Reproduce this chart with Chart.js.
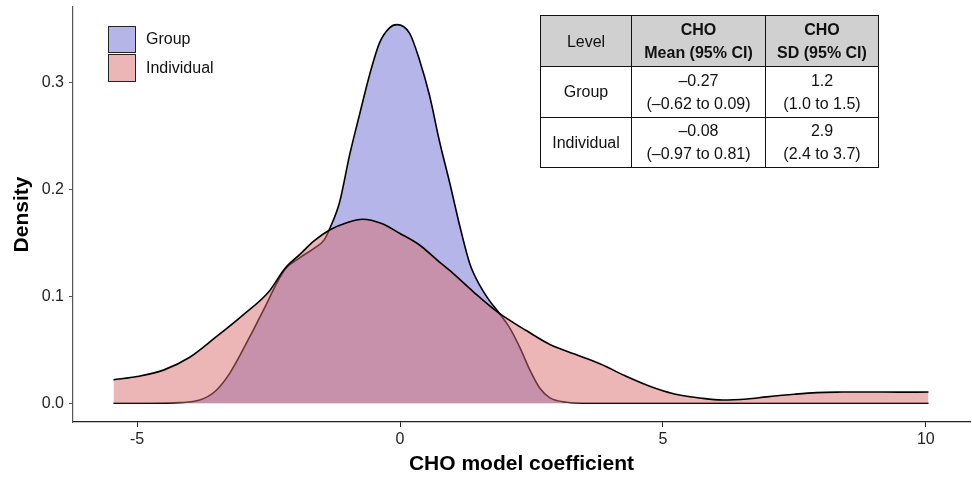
<!DOCTYPE html>
<html>
<head>
<meta charset="utf-8">
<script src="https://cdn.jsdelivr.net/npm/chart.js@4"></script>
<style>
  body { margin: 0; background: #fff; font-family: "Liberation Sans", Arial, sans-serif; }
  #wrap { position: relative; width: 972px; height: 477px; }
  #legend { position: absolute; left: 108px; top: 25px; }
  .item { display: flex; align-items: center; height: 28.5px; font-size: 16px; color: #111; }
  .swatch { width: 26px; height: 25.5px; border: 1.5px solid #222; margin-right: 10px; box-sizing: content-box; }
  #stats { position: absolute; left: 540px; top: 15px; border-collapse: collapse; font-size: 16px; color: #111; }
  #stats th, #stats td { border: 1.5px solid #111; text-align: center; padding: 0; line-height: 23px; }
  #stats th { background: #d0d0d0; height: 50px; }
  #stats th.lvl { font-weight: normal; width: 90px; }
  #stats td { height: 49.5px; }
  #stats .c2 { width: 133px; }
  #stats .c3 { width: 112px; }
</style>
</head>
<body>
<div id="wrap">
  <canvas id="density-chart" width="972" height="477"></canvas>
  <div id="legend"></div>
  <table id="stats">
    <tr><th class="lvl">Level</th><th class="c2">CHO<br>Mean (95% CI)</th><th class="c3">CHO<br>SD (95% CI)</th></tr>
    <tr><td>Group</td><td>–0.27<br>(–0.62 to 0.09)</td><td>1.2<br>(1.0 to 1.5)</td></tr>
    <tr><td>Individual</td><td>–0.08<br>(–0.97 to 0.81)</td><td>2.9<br>(2.4 to 3.7)</td></tr>
  </table>
</div>
<script>
const seriesNames = ['Group', 'Individual'];

const groupX = [-5.45, -4.76, -4.19, -3.81, -3.52, -3.24, -2.86, -2.63, -2.19, -1.91, -1.63, -1.44, -1.34, -1.15, -0.96, -0.77, -0.58, -0.39, -0.20, -0.06, 0.18, 0.37, 0.56, 0.75, 0.95, 1.14, 1.33, 1.52, 1.70, 1.89, 2.08, 2.28, 2.47, 2.66, 2.85, 3.17, 3.60, 5.0, 7.5, 10.05];
const groupY = [0, 0, 0.0006, 0.003, 0.011, 0.028, 0.062, 0.084, 0.125, 0.136, 0.145, 0.153, 0.163, 0.188, 0.232, 0.270, 0.307, 0.337, 0.351, 0.354, 0.346, 0.321, 0.288, 0.245, 0.205, 0.165, 0.130, 0.110, 0.096, 0.084, 0.071, 0.052, 0.031, 0.014, 0.005, 0.001, 0, 0, 0, 0];

const indivX = [-5.45, -5.0, -4.5, -4.0, -3.5, -3.0, -2.5, -2.19, -1.91, -1.63, -1.34, -1.0, -0.71, -0.35, -0.01, 0.37, 0.75, 0.95, 1.40, 1.89, 2.40, 2.85, 3.32, 3.80, 4.27, 4.75, 5.20, 5.70, 6.13, 6.60, 6.97, 7.50, 7.92, 8.40, 8.87, 9.50, 10.05];
const indivY = [0.022, 0.025, 0.031, 0.043, 0.062, 0.082, 0.104, 0.126, 0.139, 0.152, 0.162, 0.169, 0.172, 0.168, 0.159, 0.148, 0.132, 0.124, 0.104, 0.084, 0.068, 0.055, 0.046, 0.037, 0.026, 0.016, 0.009, 0.005, 0.003, 0.004, 0.006, 0.0085, 0.010, 0.0105, 0.0106, 0.0104, 0.0105];

const xTicks = [-5, 0, 5, 10];
const yTicks = [0, 0.1, 0.2, 0.3];

const fills = ['rgba(107,107,213,0.5)', 'rgba(217,109,109,0.5)'];

const toPoints = (xs, ys) => xs.map((x, i) => ({ x: x, y: ys[i] }));

// legend as html
const legend = document.getElementById('legend');
seriesNames.forEach((name, i) => {
    const item = document.createElement('div');
    item.className = 'item';
    const sw = document.createElement('span');
    sw.className = 'swatch';
    sw.style.background = fills[i];
    item.appendChild(sw);
    item.appendChild(document.createTextNode(name));
    legend.appendChild(item);
});

const tickFont = { family: '"Liberation Sans", Arial, sans-serif', size: 16 };
const titleFont = { family: '"Liberation Sans", Arial, sans-serif', size: 21, weight: 'bold' };

new Chart(document.getElementById('density-chart').getContext('2d'), {
    type: 'line',
    data: {
        datasets: [
            {
                label: seriesNames[0],
                data: toPoints(groupX, groupY),
                backgroundColor: fills[0],
                borderColor: '#000',
                borderWidth: 1.6,
                fill: 'origin',
                pointRadius: 0,
                cubicInterpolationMode: 'monotone',
                order: 2
            },
            {
                label: seriesNames[1],
                data: toPoints(indivX, indivY),
                backgroundColor: fills[1],
                borderColor: '#000',
                borderWidth: 1.6,
                fill: 'origin',
                pointRadius: 0,
                cubicInterpolationMode: 'monotone',
                order: 1
            }
        ]
    },
    options: {
        responsive: false,
        animation: false,
        layout: { padding: { top: 7, right: 2 } },
        plugins: {
            legend: { display: false },
            tooltip: { enabled: false }
        },
        scales: {
            x: {
                type: 'linear',
                min: -6.22,
                max: 10.84,
                afterFit: s => { s.height = 55; s.paddingLeft = 0; s.paddingRight = 0; },
                afterBuildTicks: s => { s.ticks = xTicks.map(v => ({ value: v })); },
                ticks: { font: tickFont, color: '#222', padding: 3, maxRotation: 0, callback: v => String(v) },
                grid: { drawOnChartArea: false, drawTicks: true, tickLength: 5, color: '#222' },
                border: { display: true, color: '#222', width: 1.2 },
                title: { display: true, text: 'CHO model coefficient', font: titleFont, color: '#000', padding: { top: 4, bottom: 0 } }
            },
            y: {
                type: 'linear',
                min: -0.0175,
                max: 0.3705,
                afterFit: s => { s.width = 73; s.paddingTop = 0; s.paddingBottom = 0; },
                afterBuildTicks: s => { s.ticks = yTicks.map(v => ({ value: v })); },
                ticks: { font: tickFont, color: '#222', padding: 5, callback: v => v.toFixed(1) },
                grid: { drawOnChartArea: false, drawTicks: true, tickLength: 4, color: '#555' },
                border: { display: true, color: '#555', width: 1.2 },
                title: { display: true, text: 'Density', font: titleFont, color: '#000', padding: { top: 10, bottom: 4 } }
            }
        }
    }
});
</script>
</body>
</html>
